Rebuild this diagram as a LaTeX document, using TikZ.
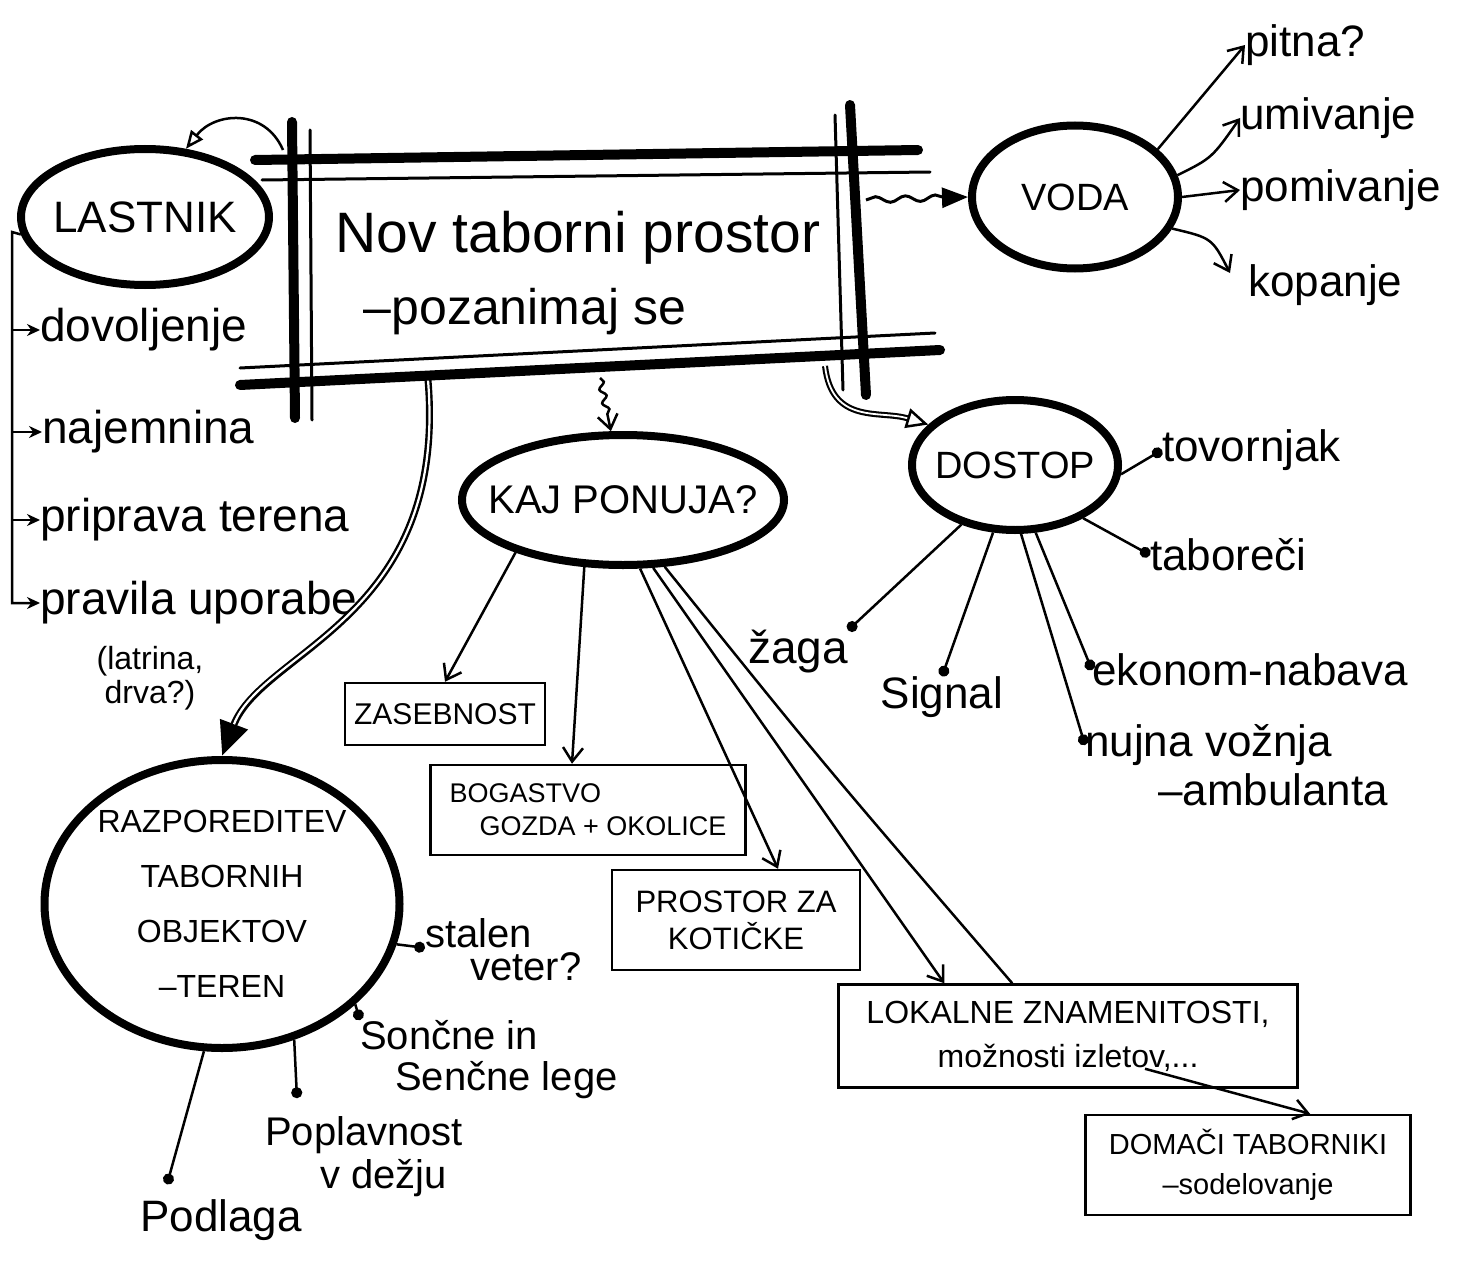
\documentclass[tikz,border=0pt]{standalone}
\usepackage{fontspec}
\setmainfont{Liberation Sans}
\usetikzlibrary{shapes.geometric,arrows.meta,decorations.pathmorphing,calc}
\newcommand{\fs}[2]{\fontsize{#1}{#2}\selectfont}
\begin{document}
\begin{tikzpicture}[x=1pt,y=-1pt,
  bubble/.style={ellipse, draw, line width=8pt, inner sep=0pt},
  tbox/.style={draw, line width=2.5pt, inner sep=6pt, align=center},
  lbl/.style={inner sep=0pt, align=left},
  conn/.style={line width=2.5pt},
  arr/.style={conn, -{Straight Barb[length=14pt,width=20pt]}},
  sarr/.style={conn, -{Stealth[length=13pt,width=12pt]}},
  dotc/.style={conn, -{Circle[length=11pt]}},
  thickbar/.style={line width=10pt, line cap=round},
  thinbar/.style={line width=3pt, line cap=round}]
\fill[white] (0,0) rectangle (1459,1271);
\useasboundingbox (0,0) rectangle (1459,1271);

% ---- main title ----
\node[lbl, font=\fs{57}{66}] (main) at (578,238) {Nov taborni prostor};
\node[lbl, font=\fs{50}{56}] (sub) at (525,312) {–pozanimaj se};

% ---- bubbles ----
\node[bubble, minimum width=248pt, minimum height=136pt,
  label={[font=\fs{44}{50}]center:LASTNIK}] (last) at (145,217) {};
\node[bubble, minimum width=206pt, minimum height=143pt,
  label={[font=\fs{38}{42}]center:VODA}] (voda) at (1075,197) {};
\node[bubble, minimum width=206pt, minimum height=130pt,
  label={[font=\fs{38}{42}]center:DOSTOP}] (dost) at (1015,465) {};
\node[bubble, minimum width=322pt, minimum height=130pt,
  label={[font=\fs{40}{44}]center:KAJ PONUJA?}] (kaj) at (623,500) {};
\node[bubble, minimum width=355pt, minimum height=288pt,
  label={[font=\fs{32}{55}, align=center]center:RAZPOREDITEV\\TABORNIH\\OBJEKTOV\\–TEREN}] (raz) at (222,904) {};

% ---- boxes ----
\node[tbox, minimum width=200pt, minimum height=62pt, font=\fs{30}{34}] (zas) at (445,714) {ZASEBNOST};
\node[tbox, minimum width=315pt, minimum height=90pt, font=\fs{27}{33}, align=left] (bog) at (588,810) {BOGASTVO\\\hspace*{30pt}GOZDA + OKOLICE};
\node[tbox, minimum width=248pt, minimum height=100pt, font=\fs{31}{37}] (pro) at (736,920) {PROSTOR ZA\\KOTIČKE};
\node[tbox, minimum width=459pt, minimum height=103pt, font=\fs{32}{44}] (lok) at (1068,1036) {LOKALNE ZNAMENITOSTI,\\možnosti izletov,...};
\node[tbox, minimum width=325pt, minimum height=100pt, font=\fs{29}{40}] (dom) at (1248,1165) {DOMAČI TABORNIKI\\–sodelovanje};

% ---- left labels ----
\node[lbl, anchor=west, font=\fs{46}{50}] (dov) at (40,330) {dovoljenje};
\node[lbl, anchor=west, font=\fs{46}{50}] (naj) at (42,432) {najemnina};
\node[lbl, anchor=west, font=\fs{46}{50}] (pri) at (40,520) {priprava terena};
\node[lbl, anchor=west, font=\fs{46}{50}] (pra) at (40,603) {pravila uporabe};
\node[lbl, align=center, font=\fs{32}{34}] (lat) at (150,678) {(latrina,\\drva?)};

% ---- right labels ----
\node[lbl, anchor=west, font=\fs{44}{48}] (pit) at (1245,45) {pitna?};
\node[lbl, anchor=west, font=\fs{44}{48}] (umi) at (1240,118) {umivanje};
\node[lbl, anchor=west, font=\fs{44}{48}] (pom) at (1240,190) {pomivanje};
\node[lbl, anchor=west, font=\fs{44}{48}] (kop) at (1248,285) {kopanje};
\node[lbl, anchor=west, font=\fs{44}{48}] (tov) at (1162,450) {tovornjak};
\node[lbl, anchor=west, font=\fs{44}{48}] (tab) at (1150,555) {taboreči};
\node[lbl, font=\fs{46}{50}] (zag) at (798,652) {žaga};
\node[lbl, font=\fs{44}{48}] (sig) at (942,697) {Signal};
\node[lbl, anchor=west, font=\fs{44}{48}] (eko) at (1092,670) {ekonom-nabava};
\node[lbl, anchor=west, font=\fs{44}{48}] (nuj) at (1085,745) {nujna vožnja};
\node[lbl, anchor=west, font=\fs{44}{48}] (amb) at (1158,790) {–ambulanta};

% ---- bottom-left labels ----
\node[lbl, anchor=west, font=\fs{40}{44}] (sta) at (425,933) {stalen};
\node[lbl, anchor=west, font=\fs{40}{44}] (vet) at (470,967) {veter?};
\node[lbl, anchor=west, font=\fs{40}{44}] (son) at (360,1035) {Sončne in};
\node[lbl, anchor=west, font=\fs{40}{44}] (sen) at (395,1080) {Senčne lege};
\node[lbl, anchor=west, font=\fs{40}{44}] (pop) at (265,1135) {Poplavnost};
\node[lbl, anchor=west, font=\fs{40}{44}] (vdz) at (320,1178) {v dežju};
\node[lbl, anchor=west, font=\fs{44}{48}] (pod) at (140,1220) {Podlaga};

% ---- frame anchor coordinates ----
\coordinate (ftl) at (283,150);
\coordinate (fb1) at (428,380);
\coordinate (fb2) at (600,378);
\coordinate (fr) at (866,200);
\coordinate (fbr) at (825,366);
\coordinate (bx) at (12,232);

% ---- connectors ----
\draw[conn, -{Triangle[open, length=18pt, width=15pt]}] (ftl) .. controls (265,108) and (215,112) .. (last.59);

\draw[sarr] (last.188) -- (bx) -- (bx |- pra.west) -- (pra.west);
\draw[sarr] (bx |- dov.west) -- (dov.west);
\draw[sarr] (bx |- naj.west) -- (naj.west);
\draw[sarr] (bx |- pri.west) -- (pri.west);

\draw[line width=7pt, -{Triangle[length=34pt,width=28pt]}] (fb1) .. controls (448,620) and (262,650) .. (raz.north);
\draw[white, line width=2.2pt, shorten >=34pt] (fb1) .. controls (448,620) and (262,650) .. (raz.north);

\draw[conn, decorate, decoration={snake, amplitude=3pt, segment length=14pt, post length=14pt}, -{Straight Barb[length=14pt,width=20pt]}] (fb2) -- (kaj.100);

\draw[line width=3pt, decorate, decoration={snake, amplitude=3pt, segment length=30pt, post length=22pt}, -{Triangle[length=26pt,width=20pt]}] (fr) -- (voda.west);

\draw[line width=6pt, -{Triangle[open, length=22pt, width=20pt, line width=2.5pt]}] (fbr) .. controls (832,425) and (880,410) .. (dost.155);
\draw[white, line width=1.8pt, shorten >=22pt] (fbr) .. controls (832,425) and (880,410) .. (dost.155);

\draw[arr] (kaj.-154) -- (zas.north);
\draw[arr] (kaj.-120) -- ($(bog.north)+(-16,0)$);
\draw[arr] (kaj.-76) -- ($(pro.north)+(42,0)$);
\draw[arr] (kaj.-66) -- ($(lok.north west)+(107,0)$);
\draw[conn] (kaj.-58) .. controls (820,760) .. ($(lok.north west)+(175,0)$);
\draw[arr] ($(lok.south)+(77,-20)$) -- ($(dom.north)+(62,0)$);

\draw[arr] (voda.30) -- (pit.west);
\draw[arr] (voda.12) .. controls (1212,158) .. (umi.west);
\draw[arr] (voda.east) -- (pom.west);
\draw[arr] (voda.-18) .. controls (1212,238) .. ($(kop.west)+(-18,-12)$);

\draw[dotc] (dost.-5) -- (tov.west);
\draw[dotc] (dost.-38) -- (tab.west);
\draw[dotc] (dost.-132) -- (zag.north east);
\draw[dotc] (dost.-108) -- (sig.north);
\draw[dotc] (dost.-73) -- (eko.west);
\draw[dotc] (dost.-85) -- (nuj.west);

\draw[dotc] (raz.-13) -- (sta.south west);
\draw[dotc] (raz.-37) -- (son.north west);
\draw[dotc] (raz.-62) -- ($(pop.north west)+(32,-18)$);
\draw[dotc] (raz.-97) -- ($(pod.north west)+(27,-15)$);

% ---- frame ----
\draw[thickbar] (255,160) -- (918,150);
\draw[thinbar] (262,180) -- (930,172);
\draw[thickbar] (240,385) -- (940,350);
\draw[thinbar] (240,368) -- (935,333);
\draw[thickbar] (292,122) -- (295,418);
\draw[thinbar] (310,130) -- (312,420);
\draw[thickbar] (850,105) -- (866,395);
\draw[thinbar] (835,115) -- (843,390);
\end{tikzpicture}
\end{document}
